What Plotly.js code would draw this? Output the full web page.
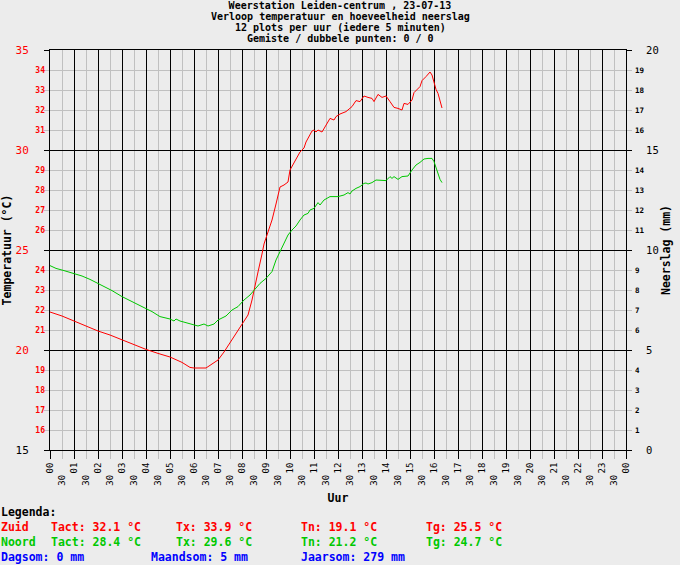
<!DOCTYPE html>
<html><head><meta charset="utf-8">
<script src="https://cdn.plot.ly/plotly-3.0.1.min.js"></script>
<style>html,body{margin:0;padding:0;background:#ececec}</style>
</head><body><div id="chart" style="width:680px;height:565px"></div>
<script>
const titleLines = [
  "Weerstation Leiden-centrum , 23-07-13",
  "Verloop temperatuur en hoeveelheid neerslag",
  "12 plots per uur (iedere 5 minuten)",
  "Gemiste / dubbele punten: 0 / 0"
];

const zuidTimes = ["00:00","00:30","01:00","01:30","02:00","02:30","03:00","03:30","04:00","04:30","05:00","05:30","05:50","06:00","06:30","06:45","07:00","07:15","07:35","08:00","08:15","08:25","08:35","08:40","08:50","08:55","09:00","09:15","09:25","09:35","09:45","09:55","10:00","10:15","10:25","10:35","10:40","10:55","11:00","11:05","11:10","11:20","11:30","11:40","11:50","11:55","12:05","12:15","12:20","12:35","12:45","12:55","13:05","13:15","13:25","13:30","13:40","13:50","14:00","14:10","14:20","14:30","14:40","14:45","14:55","15:05","15:10","15:25","15:30","15:40","15:50","15:55","16:00","16:05","16:10","16:15","16:20"];
const zuidTemps = [21.9,21.7,21.45,21.2,20.95,20.75,20.5,20.25,20.03,19.83,19.65,19.38,19.13,19.1,19.1,19.3,19.5,19.9,20.5,21.3,21.75,22.5,23.5,23.9,24.8,25.3,25.6,26.5,27.3,28.15,28.25,28.4,29.0,29.5,29.9,30.1,30.4,30.95,31.0,30.9,31.0,30.9,31.25,31.58,31.5,31.67,31.8,31.87,31.92,32.17,32.47,32.42,32.7,32.63,32.58,32.42,32.78,32.63,32.7,32.42,32.13,32.08,32.0,32.33,32.28,32.5,32.87,33.17,33.47,33.67,33.9,33.75,33.37,33.03,32.83,32.5,32.1];

const noordTimes = ["00:00","00:15","00:35","01:00","01:20","01:40","02:00","02:15","02:35","03:00","03:20","03:35","04:00","04:15","04:35","05:00","05:10","05:15","05:25","05:50","06:10","06:25","06:35","06:50","07:00","07:20","07:35","07:50","08:05","08:20","08:30","08:45","09:00","09:15","09:25","09:35","09:45","09:55","10:05","10:15","10:25","10:35","10:45","10:50","11:00","11:10","11:15","11:25","11:40","12:00","12:15","12:25","12:30","12:35","12:45","12:55","13:05","13:10","13:15","13:25","13:35","14:00","14:10","14:15","14:20","14:30","14:40","14:55","15:05","15:15","15:25","15:35","15:45","15:55","16:00","16:05","16:10","16:15","16:20"];
const noordTemps = [24.22,24.08,23.97,23.83,23.7,23.53,23.33,23.17,22.97,22.67,22.47,22.3,22.07,21.92,21.67,21.55,21.45,21.55,21.45,21.3,21.2,21.3,21.2,21.3,21.5,21.7,22.0,22.17,22.5,22.75,23.0,23.33,23.58,23.92,24.5,24.92,25.33,25.75,26.0,26.2,26.5,26.75,26.83,27.0,27.08,27.37,27.25,27.5,27.67,27.67,27.75,27.87,27.8,27.95,28.08,28.17,28.33,28.35,28.3,28.37,28.5,28.47,28.67,28.58,28.67,28.53,28.67,28.7,29.0,29.25,29.38,29.55,29.58,29.58,29.42,29.08,28.75,28.53,28.37];

const hourValues = [0,1,2,3,4,5,6,7,8,9,10,11,12,13,14,15,16,17,18,19,20,21,22,23,24];
const hourLabels = ["00","01","02","03","04","05","06","07","08","09","10","11","12","13","14","15","16","17","18","19","20","21","22","23","00"];
const halfHourValues = [0.5,1.5,2.5,3.5,4.5,5.5,6.5,7.5,8.5,9.5,10.5,11.5,12.5,13.5,14.5,15.5,16.5,17.5,18.5,19.5,20.5,21.5,22.5,23.5];
const halfHourLabel = "30";

const tempMajorValues = [15,20,25,30,35];
const tempMinorValues = [16,17,18,19,21,22,23,24,26,27,28,29,31,32,33,34];
const rainMajorValues = [0,5,10,15,20];
const rainMinorValues = [1,2,3,4,6,7,8,9,11,12,13,14,16,17,18,19];

const statLabels = ["Tact","Tx","Tn","Tg"];
const zuidStats = [32.1,33.9,19.1,25.5];
const noordStats = [28.4,29.6,21.2,24.7];
const rainLabels = ["Dagsom","Maandsom","Jaarsom"];
const rainValues = [0,5,279];

const RED = "#ff0000", GREEN = "#00c800", BLUE = "#0000ff", GRID = "#c0c0c0";
const toHours = s => { const p = s.split(":"); return +p[0] + (+p[1]) / 60; };
const FONT = "DejaVu Sans Mono";

const traces = [
  {x: zuidTimes.map(toHours), y: zuidTemps, type: "scatter", mode: "lines", name: "Zuid",
   line: {color: RED, width: 1}, xaxis: "x", yaxis: "y"},
  {x: noordTimes.map(toHours), y: noordTemps, type: "scatter", mode: "lines", name: "Noord",
   line: {color: GREEN, width: 1}, xaxis: "x", yaxis: "y"},
  {x: [], y: [], type: "scatter", mode: "lines", xaxis: "x2", yaxis: "y", hoverinfo: "skip"},
  {x: [], y: [], type: "scatter", mode: "lines", xaxis: "x", yaxis: "y2", hoverinfo: "skip"},
  {x: [], y: [], type: "scatter", mode: "lines", xaxis: "x", yaxis: "y3", hoverinfo: "skip"},
  {x: [], y: [], type: "scatter", mode: "lines", xaxis: "x", yaxis: "y4", hoverinfo: "skip"}
];

// pixel -> paper helpers (plot area 50..626 x 50..450)
const px = v => (v - 50) / 576;
const py = v => (450 - v) / 400;

const TITLE_SIZE = 10;
const titleY = [5.5, 16.5, 27.5, 38.5];
const annotations = [];
titleLines.slice(1).forEach((t, i) => {
  annotations.push({text: t, xref: "paper", yref: "paper", x: px(340), y: py(titleY[i + 1]),
    xanchor: "center", yanchor: "middle", showarrow: false, borderpad: 0,
    font: {family: FONT, size: TITLE_SIZE, weight: "bold", color: "black"}});
});
function addText(t, x, y, color) {
  annotations.push({text: t, xref: "paper", yref: "paper", x: px(x), y: py(y),
    xanchor: "left", yanchor: "middle", showarrow: false, borderpad: 0,
    font: {family: FONT, size: 11.5, weight: "bold", color: color}});
}
addText("Legenda:", 0, 511.5, "black");
const statX = [50, 175, 300, 425];
addText("Zuid", 0, 526.5, RED);
statLabels.forEach((l, i) => addText(l + ": " + zuidStats[i].toFixed(1) + " °C", statX[i], 526.5, RED));
addText("Noord", 0, 541.5, GREEN);
statLabels.forEach((l, i) => addText(l + ": " + noordStats[i].toFixed(1) + " °C", statX[i], 541.5, GREEN));
const rainX = [0, 150, 300];
rainLabels.forEach((l, i) => addText(l + ": " + rainValues[i] + " mm", rainX[i], 556.5, BLUE));

const layout = {
  width: 680, height: 565,
  margin: {l: 50, r: 54, t: 50, b: 115, pad: 0},
  paper_bgcolor: "#ececec", plot_bgcolor: "#ececec",
  font: {family: FONT, color: "black"},
  showlegend: false,
  title: {text: titleLines[0], xref: "paper", x: px(340), xanchor: "center",
    yref: "container", y: 1 - titleY[0] / 565, yanchor: "middle",
    font: {family: FONT, size: TITLE_SIZE, weight: "bold", color: "black"}},
  xaxis: {range: [0, 24], tickmode: "array", tickvals: hourValues, ticktext: hourLabels,
    tickangle: -90, tickfont: {family: FONT, size: 9, color: "black"},
    ticks: "outside", ticklen: 8, tickcolor: "black", tickwidth: 1,
    showgrid: true, gridcolor: "black", gridwidth: 1,
    minor: {tickvals: halfHourValues, ticks: "outside", ticklen: 8, tickcolor: GRID, showgrid: true, gridcolor: GRID, gridwidth: 1},
    showline: true, linecolor: "black", linewidth: 1, mirror: true, zeroline: false, fixedrange: true,
    title: {text: "Uur", font: {family: FONT, size: 11.5, weight: "bold", color: "black"}, standoff: 21}},
  xaxis2: {overlaying: "x", anchor: "y", side: "bottom", range: [0, 24], tickmode: "array",
    tickvals: halfHourValues, ticktext: halfHourValues.map(() => halfHourLabel),
    tickangle: -90, tickfont: {family: FONT, size: 9, color: "black"},
    ticks: "", showgrid: false, zeroline: false, showline: false, ticklabelstandoff: 22, fixedrange: true},
  yaxis: {range: [15, 35], tickmode: "array", tickvals: tempMajorValues,
    ticktext: tempMajorValues.map(v => v === 15 ? '<span style="color:black">' + v + '</span>' : String(v)),
    tickfont: {family: FONT, size: 11, color: RED},
    ticks: "outside", ticklen: 5, tickcolor: "black", tickwidth: 1,
    showgrid: true, gridcolor: "black", gridwidth: 1,
    minor: {dtick: 1, ticks: "outside", ticklen: 5, tickcolor: GRID, showgrid: true, gridcolor: GRID, gridwidth: 1},
    showline: true, linecolor: "black", linewidth: 1, mirror: true, zeroline: false, fixedrange: true,
    ticklabelstandoff: 13,
    title: {text: "Temperatuur (°C)", font: {family: FONT, size: 11.5, weight: "bold", color: "black"}, standoff: 4}},
  yaxis3: {overlaying: "y", anchor: "x", side: "left", range: [15, 35], tickmode: "array",
    tickvals: tempMinorValues, ticktext: tempMinorValues.map(String),
    tickfont: {family: FONT, size: 8, weight: "bold", color: RED},
    ticks: "", showgrid: false, zeroline: false, showline: false, ticklabelstandoff: 4, fixedrange: true},
  yaxis2: {overlaying: "y", anchor: "x", side: "right", range: [0, 20], tickmode: "array",
    tickvals: rainMajorValues, ticktext: rainMajorValues.map(String),
    tickfont: {family: FONT, size: 10.5, color: "black"},
    ticks: "outside", ticklen: 5, tickcolor: "black", tickwidth: 1,
    minor: {dtick: 1, ticks: "outside", ticklen: 5, tickcolor: GRID, showgrid: false},
    showgrid: false, zeroline: false, showline: false, ticklabelstandoff: 12, fixedrange: true,
    title: {text: "Neerslag (mm)", font: {family: FONT, size: 11.5, weight: "bold", color: "black"}, standoff: 4}},
  yaxis4: {overlaying: "y", anchor: "x", side: "right", range: [0, 20], tickmode: "array",
    tickvals: rainMinorValues, ticktext: rainMinorValues.map(String),
    tickfont: {family: FONT, size: 7.5, weight: "bold", color: "black"},
    ticks: "", showgrid: false, zeroline: false, showline: false, ticklabelstandoff: 8, fixedrange: true},
  annotations: annotations
};

Plotly.newPlot("chart", traces, layout, {staticPlot: true, displayModeBar: false});
</script>
</body></html>
